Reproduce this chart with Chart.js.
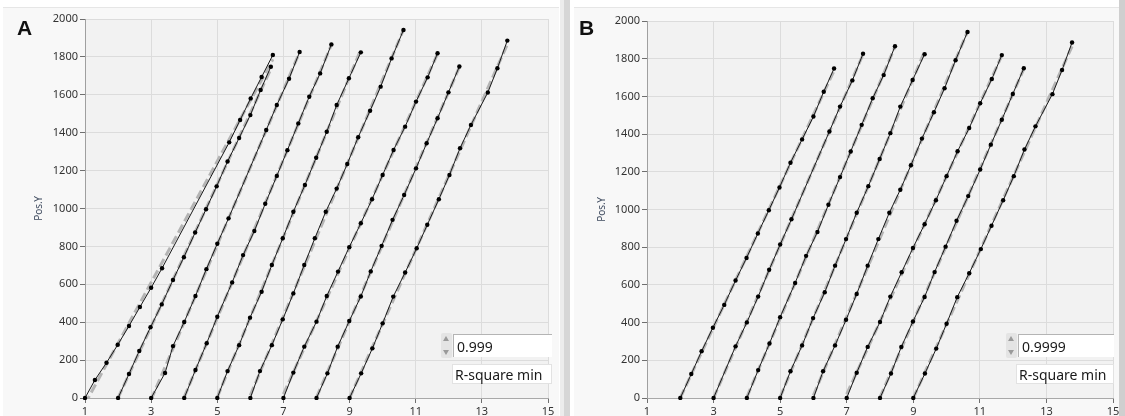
<!DOCTYPE html>
<html>
<head>
<meta charset="utf-8">
<script src="https://cdn.jsdelivr.net/npm/chart.js@4.4.1/dist/chart.umd.min.js"></script>
<style>
  html,body{margin:0;padding:0;}
  body{width:1125px;height:416px;overflow:hidden;background:#ffffff;position:relative;font-family:"Noto Sans","Open Sans",sans-serif;}
  .panel{position:absolute;top:7px;height:409px;background:#f8f8f8;border-top:1px solid #e6e6e6;}
  canvas{position:absolute;top:0;}
  .letter{position:absolute;font-family:"Liberation Sans",Arial,sans-serif;font-weight:bold;font-size:21px;color:#111;}
  .spin{position:absolute;width:11px;height:25px;background:#e4e4e4;border-radius:2px;}
  .spin .up{position:absolute;left:2px;top:3px;width:0;height:0;border-left:3.5px solid transparent;border-right:3.5px solid transparent;border-bottom:5px solid #9a9a9a;}
  .spin .dn{position:absolute;left:2px;bottom:3px;width:0;height:0;border-left:3.5px solid transparent;border-right:3.5px solid transparent;border-top:5px solid #9a9a9a;}
  .num{position:absolute;height:23px;background:#fff;border-top:1px solid #b4b4b4;border-left:1px solid #b4b4b4;font-size:14px;line-height:23px;color:#1a1a1a;padding-left:3px;box-sizing:border-box;}
  .lbl{position:absolute;height:20px;background:#fff;border:1px solid #e2e2e2;font-size:14px;line-height:19px;color:#1a1a1a;padding-left:2px;box-sizing:border-box;}
</style>
</head>
<body>
<div class="panel" style="left:3px;width:556px;"></div>
<div class="panel" style="left:574px;width:545px;"></div>
<div style="position:absolute;left:560px;top:0;width:4px;height:416px;background:#ececec;"></div>
<div style="position:absolute;left:564px;top:0;width:6px;height:416px;background:#d6d6d6;"></div>
<canvas id="chartA" width="565" height="416" style="left:0;"></canvas>
<canvas id="chartB" width="553" height="416" style="left:572px;"></canvas>
<div style="position:absolute;left:1119px;top:0;width:6px;height:416px;background:#cfcfcf;"></div>
<div class="letter" style="left:17px;top:16px;">A</div>
<div class="letter" style="left:579px;top:16px;">B</div>

<div class="spin" style="left:441px;top:333px;"><div class="up"></div><div class="dn"></div></div>
<div class="num" style="left:453px;top:334px;width:99px;">0.999</div>
<div class="lbl" style="left:452px;top:364px;width:100px;">R-square min</div>

<div class="spin" style="left:1006px;top:333px;"><div class="up"></div><div class="dn"></div></div>
<div class="num" style="left:1018px;top:334px;width:96px;">0.9999</div>
<div class="lbl" style="left:1016px;top:364px;width:98px;">R-square min</div>

<script>
// ---- data (x = time, y = Pos.Y) ----
const xTickValues = [1, 3, 5, 7, 9, 11, 13, 15];
const yTickValues = [0, 200, 400, 600, 800, 1000, 1200, 1400, 1600, 1800, 2000];
const yTitle = 'Pos.Y';

const track1 = [[1,0],[1.30,95],[1.65,186],[1.99,281],[2.33,380],[2.66,480],[3.0,582],[3.33,685],[5.36,1349],[5.69,1467],[6.01,1581],[6.34,1694],[6.68,1810]];
const track2 = [[2,0],[2.33,127],[2.64,248],[2.98,373],[3.32,494],[3.66,623],[3.99,743],[4.33,873],[4.66,996],[4.98,1117],[5.31,1248],[5.66,1372],[6.0,1493],[6.31,1625],[6.62,1748]];
const track3 = [[3,0],[3.42,132],[3.66,274],[4.0,401],[4.34,538],[4.67,680],[5.0,814],[5.34,948],[6.48,1414],[6.8,1546],[7.17,1685],[7.49,1826]];
const track3B = [[3,0],[3.66,274],[4.0,401],[4.34,538],[4.67,680],[5.0,814],[5.34,948],[6.48,1414],[6.8,1546],[7.17,1685],[7.49,1826]];
const track4 = [[4,0],[4.34,148],[4.68,289],[5.0,429],[5.45,610],[5.78,754],[6.12,881],[6.45,1025],[6.8,1172],[7.12,1308],[7.45,1449],[7.78,1590],[8.11,1713],[8.45,1866]];
const track5 = [[5,0],[5.31,142],[5.66,279],[5.99,424],[6.34,561],[6.65,702],[6.98,843],[7.30,983],[7.65,1124],[7.99,1268],[8.31,1405],[8.61,1546],[8.98,1687],[9.34,1824]];
const track6 = [[6,0],[6.29,142],[6.65,279],[6.98,415],[7.30,552],[7.63,702],[7.95,843],[8.28,983],[8.61,1105],[8.93,1235],[9.26,1376],[9.62,1516],[9.94,1643],[10.27,1792],[10.63,1942]];
const track7 = [[7,0],[7.30,134],[7.63,271],[8.0,403],[8.31,538],[8.65,667],[8.99,796],[9.34,922],[9.68,1049],[10.0,1177],[10.33,1309],[10.68,1432],[11.01,1564],[11.36,1692],[11.66,1819]];
const track8 = [[8,0],[8.33,130],[8.64,271],[8.99,406],[9.34,536],[9.64,668],[9.97,803],[10.30,940],[10.65,1071],[11.01,1212],[11.33,1344],[11.66,1476],[11.99,1613],[12.32,1749]];
const track9 = [[9,0],[9.35,130],[9.69,262],[10.0,394],[10.32,535],[10.68,662],[11.03,790],[11.35,914],[11.70,1049],[12.02,1177],[12.34,1318],[12.67,1441],[13.18,1612],[13.47,1740],[13.77,1886]];

const tracksA = [track1, track2, track3, track4, track5, track6, track7, track8, track9];
const tracksB = [track2, track3B, track4, track5, track6, track7, track8, track9];

// least-squares linear fit drawn over the track's x-range
function fitLine(pts) {
  const n = pts.length;
  let sx = 0, sy = 0;
  pts.forEach(p => { sx += p[0]; sy += p[1]; });
  const mx = sx / n, my = sy / n;
  let sxx = 0, sxy = 0;
  pts.forEach(p => { sxx += (p[0]-mx)*(p[0]-mx); sxy += (p[0]-mx)*(p[1]-my); });
  const b = sxy / sxx, a = my - b * mx;
  const x0 = pts[0][0], x1 = pts[n-1][0];
  return [{x: x0, y: a + b*x0}, {x: x1, y: a + b*x1}];
}

function buildDatasets(tracks) {
  const ds = [];
  tracks.forEach(t => {
    ds.push({
      data: fitLine(t), showLine: true, borderColor: '#b4b4b4', borderWidth: 3,
      borderDash: [9, 4], pointRadius: 0, order: 2, clip: 0
    });
    ds.push({
      data: t.map(p => ({x: p[0], y: p[1]})), showLine: true, borderColor: '#1a1a1a',
      borderWidth: 1, pointRadius: 2.2, pointBackgroundColor: '#000', pointBorderWidth: 0,
      order: 1, clip: 2
    });
  });
  return ds;
}

const plotBg = {
  id: 'plotBg',
  beforeDraw(chart) {
    const {ctx, chartArea: a} = chart;
    ctx.save();
    ctx.fillStyle = '#f2f2f2';
    ctx.fillRect(a.left, a.top, a.right - a.left, a.bottom - a.top);
    ctx.restore();
  }
};

function makeChart(id, tracks, pad, yWidth, titleColor) {
  return new Chart(document.getElementById(id), {
    type: 'scatter',
    data: { datasets: buildDatasets(tracks) },
    options: {
      responsive: false, animation: false, events: [],
      layout: { padding: pad },
      plugins: { legend: { display: false }, tooltip: { enabled: false } },
      scales: {
        x: {
          type: 'linear', min: 1, max: 15,
          afterBuildTicks: s => { s.ticks = xTickValues.map(v => ({value: v})); },
          afterFit: s => { s.height = 18; },
          grid: { color: '#dcdcdc', tickColor: '#6f6f6f', tickLength: 5, lineWidth: 1 },
          border: { color: '#a8a8a8' },
          ticks: { color: '#333', font: { family: 'Noto Sans', size: 11 }, padding: 2, maxRotation: 0, autoSkip: false,
                   callback: v => String(v) }
        },
        y: {
          type: 'linear', min: 0, max: 2000,
          afterBuildTicks: s => { s.ticks = yTickValues.map(v => ({value: v})); },
          afterFit: s => { s.width = yWidth; },
          grid: { color: '#dcdcdc', tickColor: '#6f6f6f', tickLength: 5, lineWidth: 1 },
          border: { color: '#a0a0a0' },
          title: { display: true, text: yTitle, color: titleColor, font: { family: 'Noto Sans', size: 10 }, padding: 0 },
          ticks: { color: '#333', font: { family: 'Noto Sans', size: 11 }, padding: 2, autoSkip: false,
                   callback: v => String(v) }
        }
      }
    },
    plugins: [plotBg]
  });
}

makeChart('chartA', tracksA, { left: 33, top: 19, right: 17, bottom: 0 }, 52, '#3e4a5e');
makeChart('chartB', tracksB, { left: 24, top: 21, right: 12, bottom: 0 }, 51, '#3e4a5e');
</script>
</body>
</html>
